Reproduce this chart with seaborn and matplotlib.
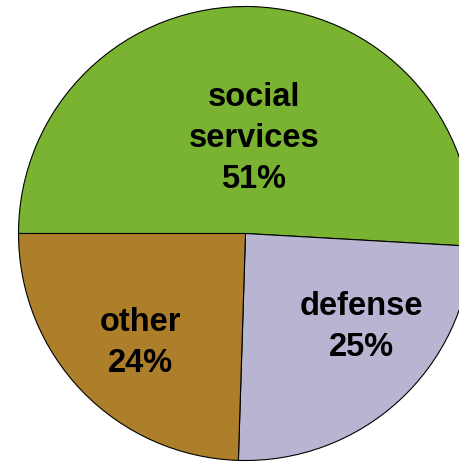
import numpy as np
import seaborn as sns
import matplotlib.pyplot as plt

# Data
categories = ['social\nservices', 'defense', 'other']
shares = [50.9, 24.6, 24.5]
pct_labels = ['51%', '25%', '24%']
colors = ['#7ab231', '#b7b5d2', '#ad7f2b']

sns.set_theme(style="white")
plt.rcParams['font.family'] = ['Liberation Sans', 'DejaVu Sans']

fig = plt.figure(figsize=(4.6, 4.62), dpi=100)
# pie centre sits at (245, 233) px, radius ~227 px, right edge runs off the canvas
ax = fig.add_axes([18.5 / 460, 1.5 / 462, 454 / 460, 454 / 462])

wedges, _ = ax.pie(shares, colors=colors, startangle=180, counterclock=False,
                   wedgeprops=dict(edgecolor='black', linewidth=0.8))
ax.set_xlim(-1, 1)
ax.set_ylim(-1, 1)
ax.set_aspect('equal')

# label placement: distance from centre and small angle nudge per slice
label_r = [0.42, 0.655, 0.67]
label_nudge = [-3.5, 8.5, 2.0]
for w, cat, pct, r, nudge in zip(wedges, categories, pct_labels, label_r, label_nudge):
    ang = np.deg2rad((w.theta1 + w.theta2) / 2 + nudge)
    ax.text(r * np.cos(ang), r * np.sin(ang), f'{cat}\n{pct}',
            ha='center', va='center', fontsize=23.5, fontweight='bold',
            color='black', linespacing=1.42)

fig.savefig('out.png', dpi=100)
